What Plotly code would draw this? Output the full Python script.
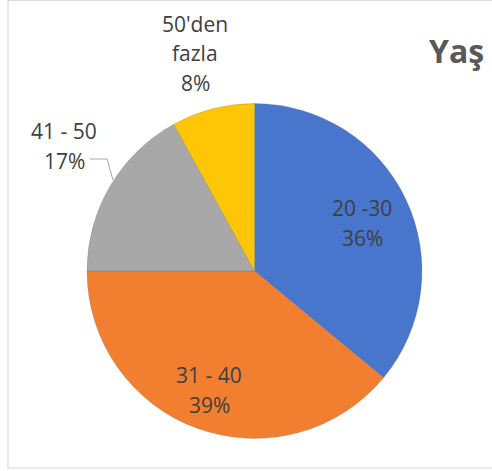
import plotly.graph_objects as go

W, H = 492, 471

categories = ["20 -30", "31 - 40", "41 - 50", "50'den fazla"]
values = [36, 39, 17, 8]
colors = ["#4776CC", "#F27F30", "#A8A8A8", "#FFC606"]
title_text = "Yaş"

# label line splits (text taken from the arrays above)
label_lines = [
    [categories[0], f"{values[0]}%"],
    [categories[1], f"{values[1]}%"],
    [categories[2], f"{values[2]}%"],
    ["50'den", "fazla", f"{values[3]}%"],
]
# pixel anchors for the first line of each label and line step
label_pos = [(362, 208), (209, 375), (64, 131), (195, 24)]
line_step = 29.5


def px(x, y):
    return x / W, 1 - y / H


cx, cy, r = 254.5, 271, 167.5
fig = go.Figure()
fig.add_trace(go.Pie(
    labels=categories,
    values=values,
    sort=False,
    direction="clockwise",
    rotation=0,
    marker=dict(colors=colors, line=dict(color="rgba(90,90,90,0.35)", width=0.6)),
    textinfo="none",
    hoverinfo="label+percent",
    showlegend=False,
    domain=dict(x=[(cx - r) / W, (cx + r) / W], y=[1 - (cy + r) / H, 1 - (cy - r) / H]),
))

annotations = []
for lines, (x0, y0) in zip(label_lines, label_pos):
    for i, t in enumerate(lines):
        ax, ay = px(x0, y0 + i * line_step)
        annotations.append(dict(
            text=t, x=ax, y=ay, xref="paper", yref="paper",
            xanchor="center", yanchor="middle", showarrow=False,
            font=dict(family="Open Sans", size=21, color="#404040"),
        ))

tx, ty = px(456, 51)
annotations.append(dict(
    text=f"<b>{title_text}</b>", x=tx, y=ty, xref="paper", yref="paper",
    xanchor="center", yanchor="middle", showarrow=False,
    font=dict(family="Open Sans", size=32, color="#595959"),
))

# leader line for the 41 - 50 label
lx = [90, 107, 113]
ly = [159, 159, 180]
path = "M " + " L ".join(f"{px(a, b)[0]} {px(a, b)[1]}" for a, b in zip(lx, ly))

shapes = [
    dict(type="path", path=path, xref="paper", yref="paper",
         line=dict(color="#A6A6A6", width=1)),
    dict(type="rect", xref="paper", yref="paper",
         x0=px(8, 0)[0], x1=px(520, 0)[0], y0=px(0, 468)[1], y1=px(0, 0.5)[1],
         line=dict(color="#D9D9D9", width=1.2), fillcolor="rgba(0,0,0,0)"),
]

fig.update_layout(
    width=W, height=H,
    margin=dict(l=0, r=0, t=0, b=0),
    paper_bgcolor="white",
    plot_bgcolor="white",
    annotations=annotations,
    shapes=shapes,
)

fig.write_html(
    "out.html",
    config={"displayModeBar": False},
    post_script="document.body.style.margin='0';document.body.style.overflow='hidden';",
)
